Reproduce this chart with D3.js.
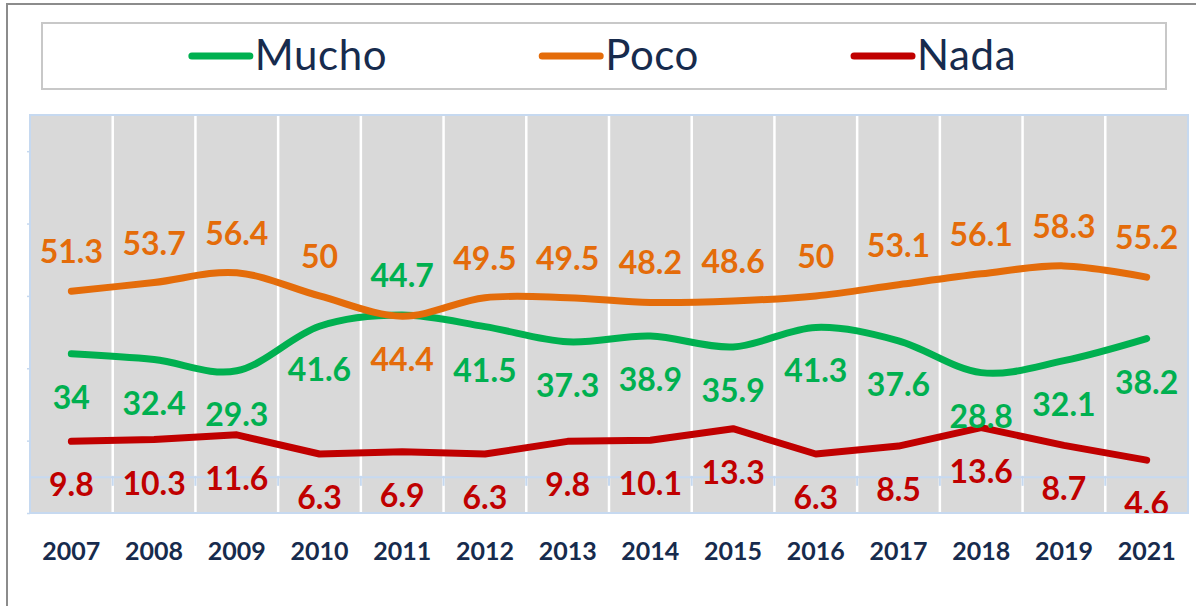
<!DOCTYPE html>
<html><head><meta charset="utf-8">
<script src="https://cdn.jsdelivr.net/npm/d3@7"></script>
<style>
body{margin:0;background:#fff}
svg{display:block}
text{font-family:Lato,"Open Sans","DejaVu Sans",sans-serif}
</style>
</head><body>
<svg id="c" width="1196" height="606"></svg>
<script>
const years = ["2007","2008","2009","2010","2011","2012","2013","2014","2015","2016","2017","2018","2019","2021"];
const mucho = [34,32.4,29.3,41.6,44.7,41.5,37.3,38.9,35.9,41.3,37.6,28.8,32.1,38.2];
const poco  = [51.3,53.7,56.4,50,44.4,49.5,49.5,48.2,48.6,50,53.1,56.1,58.3,55.2];
const nada  = [9.8,10.3,11.6,6.3,6.9,6.3,9.8,10.1,13.3,6.3,8.5,13.6,8.7,4.6];
const seriesNames = ["Mucho","Poco","Nada"];
const yTicks = [-10,10,30,50,70,90];
const yDomain = [-10,100];

const colors = {Mucho:"#00b050", Poco:"#e46c0a", Nada:"#c00000"};
const navy = "#172b4d";

const svg = d3.select("#c");
const W = 1196, H = 606;
const plot = {l:30, r:1188, t:115, b:513};

// outer frame
svg.append("rect").attr("x",7).attr("y",4).attr("width",W+20).attr("height",H+20)
  .attr("fill","none").attr("stroke","#8c8c8c").attr("stroke-width",2);

const x = d3.scaleBand().domain(years).range([plot.l, plot.r]).padding(0);
const y = d3.scaleLinear().domain(yDomain).range([plot.b, plot.t]);
const cx = d => x(d) + x.bandwidth()/2;

// plot background
svg.append("rect").attr("x",plot.l).attr("y",plot.t)
  .attr("width",plot.r-plot.l).attr("height",plot.b-plot.t).attr("fill","#d9d9d9");

// vertical white gridlines at category boundaries
svg.append("g").selectAll("line").data(years.slice(1)).join("line")
  .attr("x1",d=>x(d)).attr("x2",d=>x(d)).attr("y1",plot.t).attr("y2",plot.b)
  .attr("stroke","#ffffff").attr("stroke-width",2.5);

// horizontal axis at zero
const axisCol = "#c6d9f0";
const xAxis = d3.axisBottom(x).tickSize(0).tickFormat("");
const gx = svg.append("g").attr("transform",`translate(0,${y(0)})`).call(xAxis);
gx.select(".domain").attr("stroke",axisCol).attr("stroke-width",2);
gx.append("g").selectAll("line").data(years.slice(1)).join("line")
  .attr("x1",d=>x(d)).attr("x2",d=>x(d)).attr("y1",-1).attr("y2",9)
  .attr("stroke",axisCol).attr("stroke-width",2);

// left axis ticks
const yAxis = d3.axisLeft(y).tickValues(yTicks).tickSize(3).tickFormat("");
const gy = svg.append("g").attr("transform",`translate(${plot.l},0)`).call(yAxis);
gy.select(".domain").remove();
gy.selectAll(".tick line").attr("stroke",axisCol).attr("stroke-width",1.5);

// plot border
svg.append("rect").attr("x",plot.l).attr("y",plot.t)
  .attr("width",plot.r-plot.l).attr("height",plot.b-plot.t)
  .attr("fill","none").attr("stroke",axisCol).attr("stroke-width",2);

// clip
svg.append("clipPath").attr("id","pc").append("rect")
  .attr("x",plot.l).attr("y",plot.t).attr("width",plot.r-plot.l).attr("height",plot.b-plot.t);

const data = {Mucho:mucho, Poco:poco, Nada:nada};
const curves = {Mucho:d3.curveCatmullRom.alpha(0), Poco:d3.curveCatmullRom.alpha(0), Nada:d3.curveLinear};

const lineG = svg.append("g");
seriesNames.forEach(s => {
  const line = d3.line().x((v,i)=>cx(years[i])).y(v=>y(v)).curve(curves[s]);
  lineG.append("path").datum(data[s]).attr("d",line)
    .attr("fill","none").attr("stroke",colors[s]).attr("stroke-width",7)
    .attr("stroke-linecap","round").attr("stroke-linejoin","round");
});

// labels
const labG = svg.append("g").attr("clip-path","url(#pc)");
seriesNames.forEach(s => {
  labG.append("g").selectAll("text").data(data[s]).join("text")
    .attr("x",(v,i)=>cx(years[i]))
    .attr("y",(v,i)=>{
      let above;
      if (s==="Poco") above = poco[i] >= mucho[i];
      else if (s==="Mucho") above = mucho[i] > poco[i];
      else above = false;
      return above ? y(v)-28 : y(v)+55;
    })
    .attr("text-anchor","middle").attr("font-size",32).attr("font-weight",700)
    .attr("fill",colors[s]).text(v=>String(v));
});

// year labels
svg.append("g").selectAll("text").data(years).join("text")
  .attr("x",d=>cx(d)).attr("y",560).attr("text-anchor","middle")
  .attr("font-size",25).attr("font-weight",700).attr("fill",navy).text(d=>d);

// legend
const lb = {x:42, y:23, w:1124, h:66};
svg.append("rect").attr("x",lb.x).attr("y",lb.y).attr("width",lb.w).attr("height",lb.h)
  .attr("fill","#fff").attr("stroke","#c8c8c8").attr("stroke-width",2);
const lineLen = 58, gapLT = 5, gapItem = 155;
const lg = svg.append("g");
const items = seriesNames.map(s => {
  const g = lg.append("g");
  g.append("line").attr("x1",0).attr("x2",lineLen).attr("y1",56).attr("y2",56)
    .attr("stroke",colors[s]).attr("stroke-width",7).attr("stroke-linecap","round");
  const t = g.append("text").attr("x",lineLen+gapLT).attr("y",70)
    .attr("font-size",42).attr("letter-spacing","0.6px").attr("fill",navy).text(s);
  return {g, w: lineLen+gapLT+t.node().getComputedTextLength()};
});
const total = d3.sum(items,d=>d.w) + gapItem*(items.length-1);
let ox = lb.x + lb.w/2 - total/2;
items.forEach(it => { it.g.attr("transform",`translate(${ox},0)`); ox += it.w + gapItem; });
</script>
</body></html>
